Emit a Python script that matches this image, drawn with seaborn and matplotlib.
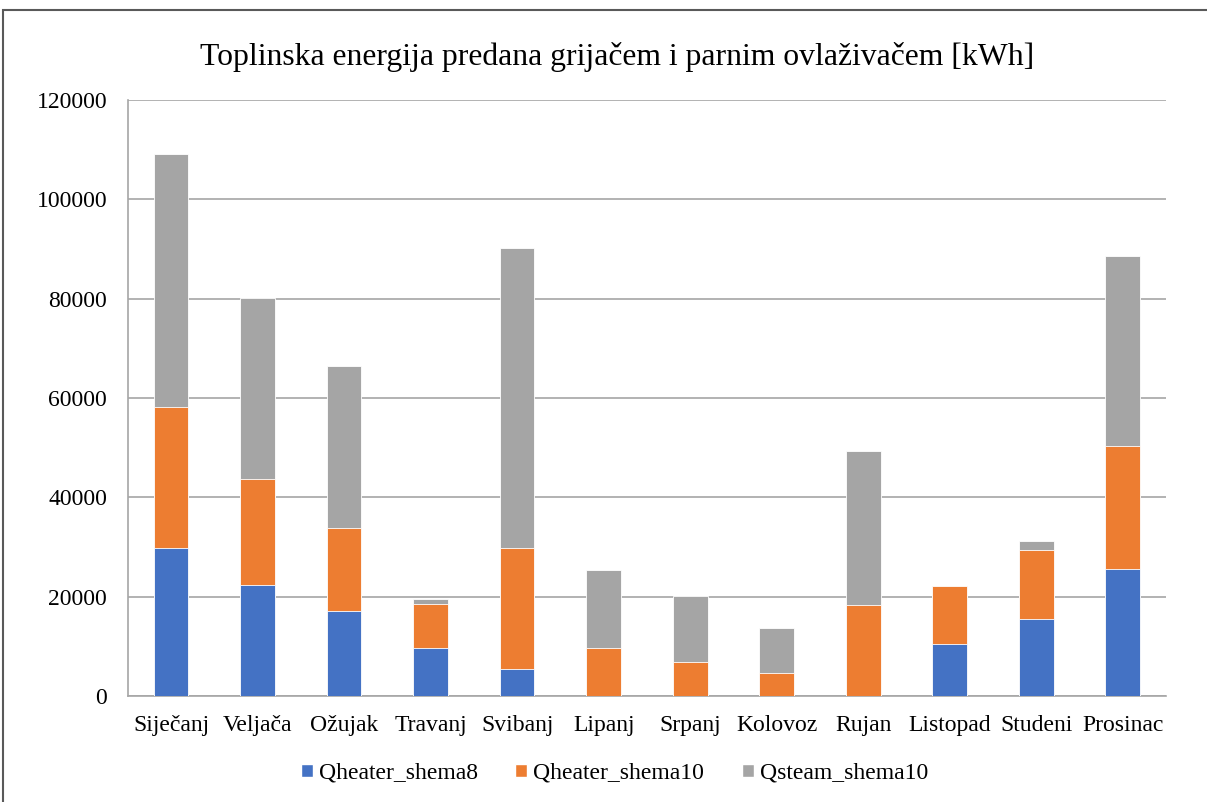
import matplotlib
matplotlib.use("Agg")
import matplotlib.pyplot as plt
from matplotlib.patches import Patch, Rectangle
import numpy as np
import pandas as pd
import seaborn as sns

months = ['Siječanj', 'Veljača', 'Ožujak', 'Travanj', 'Svibanj', 'Lipanj',
          'Srpanj', 'Kolovoz', 'Rujan', 'Listopad', 'Studeni', 'Prosinac']
qheater_shema8 = [29840, 22280, 17190, 9630, 5410, 0, 0, 0, 0, 10420, 15440, 25620]
qheater_shema10 = [28250, 21490, 16550, 8830, 24350, 9630, 6840, 4540, 18300, 11700, 14000, 24750]
qsteam_shema10 = [51090, 36450, 32790, 1030, 60480, 15680, 13370, 9230, 30960, 0, 1670, 38280]
series_names = ['Qheater_shema8', 'Qheater_shema10', 'Qsteam_shema10']
colors = ['#4472C4', '#ED7D31', '#A5A5A5']
yticks = [0, 20000, 40000, 60000, 80000, 100000, 120000]

sns.set_theme(style='white')
plt.rcParams['font.family'] = ['Liberation Serif', 'DejaVu Serif']
plt.rcParams['text.color'] = 'black'

df = pd.DataFrame({'month': months,
                   'Qheater_shema8': qheater_shema8,
                   'Qheater_shema10': qheater_shema10,
                   'Qsteam_shema10': qsteam_shema10})
# cumulative tops, drawn back to front so they look stacked
df['top8'] = df['Qheater_shema8']
df['top10'] = df['top8'] + df['Qheater_shema10']
df['topsteam'] = df['top10'] + df['Qsteam_shema10']

fig = plt.figure(figsize=(12.07, 8.02), dpi=100)
ax = fig.add_axes([0.106, 0.1322, 0.86, 0.7431])

for col, c in zip(['topsteam', 'top10', 'top8'], colors[::-1]):
    sns.barplot(data=df, x='month', y=col, color=c, width=0.4, ax=ax,
                saturation=1, edgecolor='white', linewidth=0.6, zorder=3)

ax.set_xlim(-0.5, len(months) - 0.5)
ax.set_ylim(0, 120000)
ax.set_yticks(yticks)
ax.set_yticklabels([str(v) for v in yticks])
ax.set_xlabel('')
ax.set_ylabel('')

ax.yaxis.grid(True, color='#A6A6A6', linewidth=1.2, zorder=0)
ax.set_axisbelow(True)
for s in ['top', 'right']:
    ax.spines[s].set_visible(False)
for s in ['left', 'bottom']:
    ax.spines[s].set_color('#A6A6A6')
    ax.spines[s].set_linewidth(1.2)

# tick marks sit between the categories
ax.set_xticks(np.arange(-0.5, len(months)), minor=True)
ax.tick_params(axis='x', which='major', length=0, pad=14, labelsize=17, labelcolor='black')
ax.tick_params(axis='x', which='minor', length=6, width=1.2, color='#A6A6A6', direction='out')
ax.tick_params(axis='y', which='major', length=7, width=1.2, color='#A6A6A6',
               direction='out', pad=8, labelsize=17, labelcolor='black')

fig.text(0.5115, 0.929, 'Toplinska energija predana grijačem i parnim ovlaživačem [kWh]',
         ha='center', va='center', fontsize=22.8, color='black')

handles = [Patch(facecolor=c) for c in colors]
fig.legend(handles, series_names, loc='center', bbox_to_anchor=(0.509, 0.036),
           ncol=3, frameon=False, fontsize=17, handlelength=0.5, handleheight=0.5,
           handletextpad=0.25, columnspacing=1.6, labelcolor='black')

fig.patches.append(Rectangle((3 / 1207, -0.02), 1.1, 0.9875 + 0.02,
                             transform=fig.transFigure, fill=False,
                             edgecolor='#595959', linewidth=1.5))

fig.savefig('out.png', dpi=100)
